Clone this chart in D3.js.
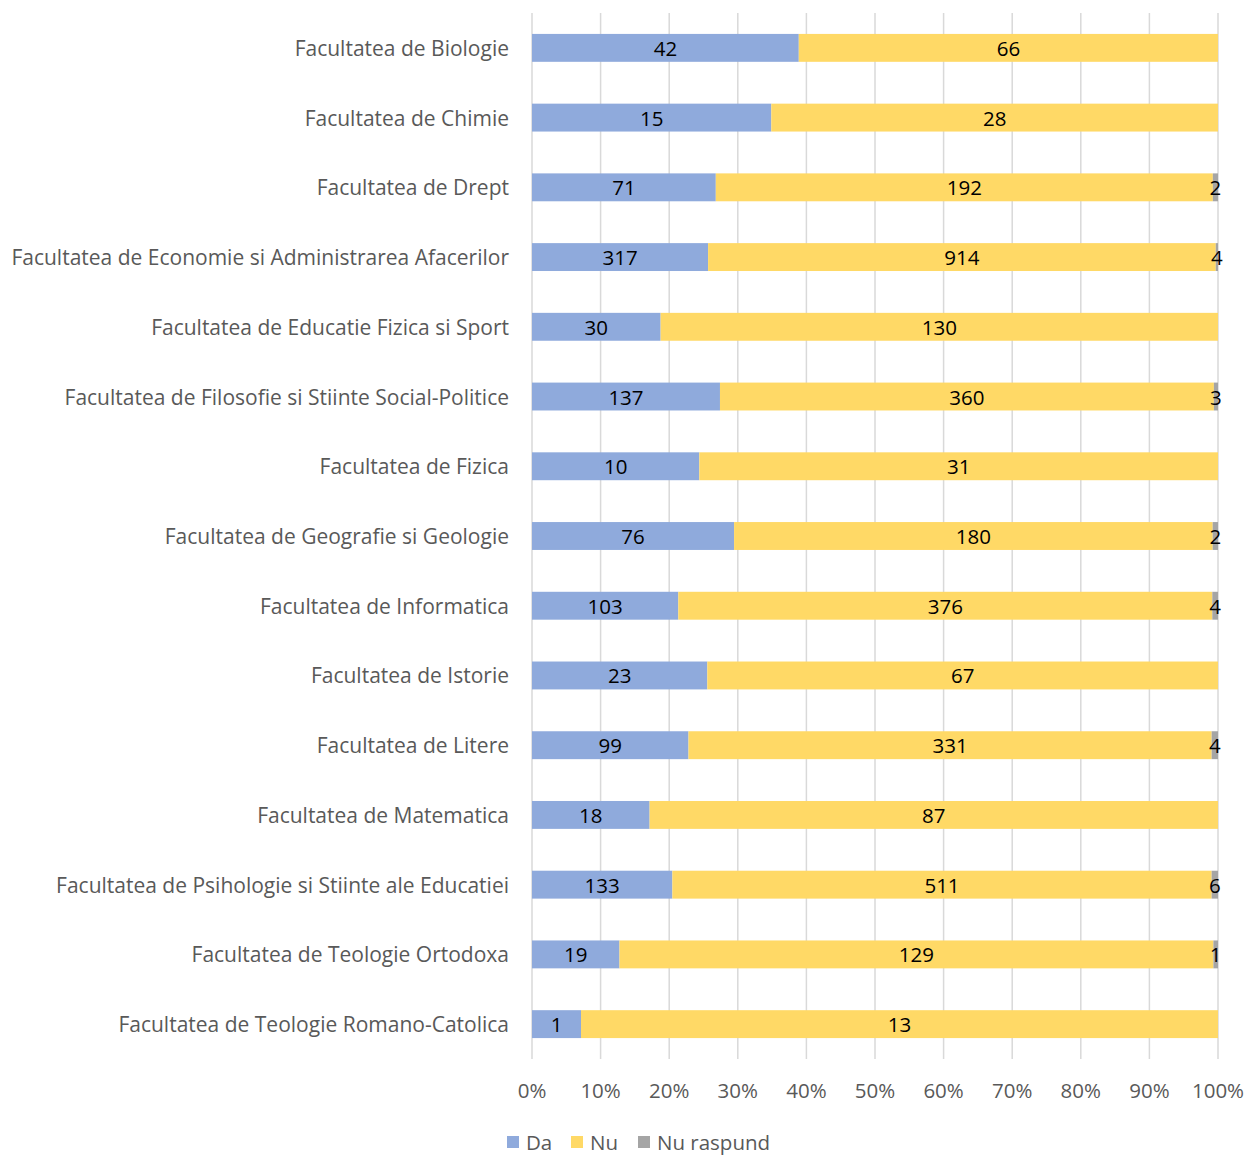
<!DOCTYPE html>
<html>
<head>
<meta charset="utf-8">
<script src="https://cdn.jsdelivr.net/npm/d3@7"></script>
<style>
  html, body { margin: 0; padding: 0; background: #fff; }
  svg { display: block; }
  text { font-family: "Open Sans", "Liberation Sans", sans-serif; }
</style>
</head>
<body>
<svg id="chart" width="1250" height="1155"></svg>
<script>
// Survey answers per faculty (counts), shown as 100% stacked bars
const faculties = [
  "Facultatea de Biologie",
  "Facultatea de Chimie",
  "Facultatea de Drept",
  "Facultatea de Economie si Administrarea Afacerilor",
  "Facultatea de Educatie Fizica si Sport",
  "Facultatea de Filosofie si Stiinte Social-Politice",
  "Facultatea de Fizica",
  "Facultatea de Geografie si Geologie",
  "Facultatea de Informatica",
  "Facultatea de Istorie",
  "Facultatea de Litere",
  "Facultatea de Matematica",
  "Facultatea de Psihologie si Stiinte ale Educatiei",
  "Facultatea de Teologie Ortodoxa",
  "Facultatea de Teologie Romano-Catolica"
];
const da        = [42, 15, 71, 317, 30, 137, 10, 76, 103, 23, 99, 18, 133, 19, 1];
const nu        = [66, 28, 192, 914, 130, 360, 31, 180, 376, 67, 331, 87, 511, 129, 13];
const nuRaspund = [0, 0, 2, 4, 0, 3, 0, 2, 4, 0, 4, 0, 6, 1, 0];

const seriesNames = ["Da", "Nu", "Nu raspund"];
const seriesColors = ["#8faadc", "#ffd966", "#a5a5a5"];
const tickValues = [0, 0.1, 0.2, 0.3, 0.4, 0.5, 0.6, 0.7, 0.8, 0.9, 1.0];

const rows = faculties.map((f, i) => ({ name: f, Da: da[i], Nu: nu[i], "Nu raspund": nuRaspund[i] }));

const svg = d3.select("#chart");
const plotLeft = 532, plotRight = 1218, plotTop = 13, plotBottom = 1059;

const x = d3.scaleLinear().domain([0, 1]).range([plotLeft, plotRight]);
const y = d3.scaleBand().domain(faculties).range([plotTop, plotBottom]).paddingInner(0.6).paddingOuter(0.3);

// Gridlines
svg.append("g").selectAll("line").data(tickValues).join("line")
  .attr("x1", d => x(d)).attr("x2", d => x(d))
  .attr("y1", plotTop).attr("y2", plotBottom)
  .attr("stroke", "#d9d9d9").attr("stroke-width", 1.5);

// Percent tick labels
svg.append("g").selectAll("text").data(tickValues).join("text")
  .attr("x", d => x(d)).attr("y", 1090)
  .attr("text-anchor", "middle").attr("dominant-baseline", "central")
  .attr("font-size", 20.5).attr("fill", "#595959")
  .text(d => d3.format(".0%")(d));

// Category labels
svg.append("g").selectAll("text").data(faculties).join("text")
  .attr("x", 509).attr("y", d => y(d) + y.bandwidth() / 2)
  .attr("text-anchor", "end").attr("dominant-baseline", "central")
  .attr("font-size", 21).attr("fill", "#595959")
  .text(d => d);

// Stacked, normalised
const stack = d3.stack().keys(seriesNames).offset(d3.stackOffsetExpand);
const layers = stack(rows);

const layerG = svg.append("g").selectAll("g").data(layers).join("g")
  .attr("fill", (d, i) => seriesColors[i]);

layerG.selectAll("rect").data(d => d).join("rect")
  .attr("x", d => x(d[0]))
  .attr("width", d => x(d[1]) - x(d[0]))
  .attr("y", d => y(d.data.name))
  .attr("height", y.bandwidth());

// Value labels
const labelG = svg.append("g");
layers.forEach(layer => {
  layer.forEach(d => {
    const v = d.data[layer.key];
    if (!v) return;
    labelG.append("text")
      .attr("x", (x(d[0]) + x(d[1])) / 2)
      .attr("y", y(d.data.name) + y.bandwidth() / 2)
      .attr("text-anchor", "middle").attr("dominant-baseline", "central")
      .attr("font-size", 20.5).attr("fill", "#000")
      .text(v);
  });
});

// Legend
const legendX = [507, 571, 638];
const legend = svg.append("g").selectAll("g").data(seriesNames).join("g")
  .attr("transform", (d, i) => `translate(${legendX[i]},1142)`);
legend.append("rect").attr("x", 0).attr("y", -6).attr("width", 12).attr("height", 12)
  .attr("fill", (d, i) => seriesColors[i]);
legend.append("text").attr("x", 19).attr("y", 0)
  .attr("dominant-baseline", "central")
  .attr("font-size", 20.5).attr("fill", "#595959")
  .text(d => d);
</script>
</body>
</html>
